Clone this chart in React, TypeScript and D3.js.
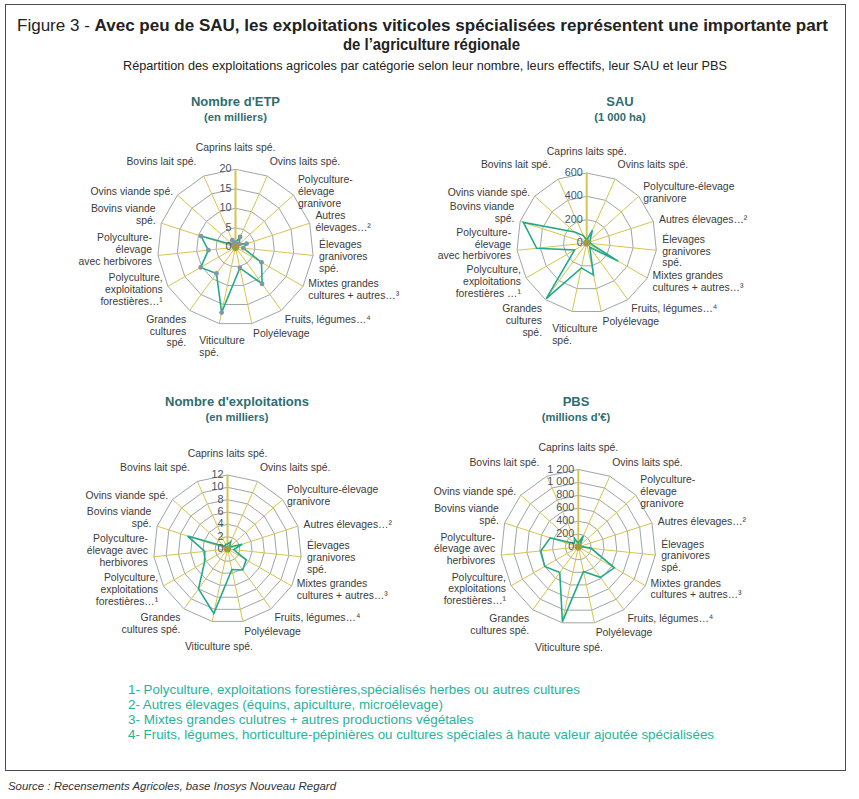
import React from 'react';
import * as d3 from 'd3';

// ---------- DATA ----------
const categories = [
  'Caprins laits spé.', 'Ovins laits spé.', 'Polyculture-élevage granivore', 'Autres élevages…²',
  'Élevages granivores spé.', 'Mixtes grandes cultures + autres…³', 'Fruits, légumes…⁴', 'Polyélevage',
  'Viticulture spé.', 'Grandes cultures spé.', 'Polyculture, exploitations forestières…¹',
  'Polyculture-élevage avec herbivores', 'Bovins viande spé.', 'Ovins viande spé.', 'Bovins lait spé.',
];

const etpValues = [1.2, 2.9, 1.2, 3.0, 2.0, 7.7, 11.6, 5.4, 17.1, 8.3, 10.3, 7.0, 9.3, 1.0, 2.0];
const sauValues = [25, 120, 40, 30, 30, 310, 45, 281, 218, 590, 120, 431, 571, 140, 70];
const exploitValues = [0.8, 1.3, 0.5, 2.5, 1.0, 3.5, 4.2, 3.4, 10.7, 8.0, 4.3, 3.7, 6.8, 0.6, 0.8];
const pbsValues = [60, 190, 40, 40, 200, 644, 580, 387, 1182, 488, 600, 584, 456, 80, 148];

const etpTicks = [0, 5, 10, 15, 20];
const sauTicks = [0, 200, 400, 600];
const exploitTicks = [0, 2, 4, 6, 8, 10, 12];
const pbsTicks = [0, 200, 400, 600, 800, 1000, 1200];

const etpLabels = [
  ['Caprins laits spé.'], ['Ovins laits spé.'], ['Polyculture-', 'élevage', 'granivore'], ['Autres', 'élevages…²'],
  ['Élevages', 'granivores', 'spé.'], ['Mixtes grandes', 'cultures + autres…³'], ['Fruits, légumes…⁴'], ['Polyélevage'],
  ['Viticulture', 'spé.'], ['Grandes', 'cultures', 'spé.'], ['Polyculture,', 'exploitations', 'forestières…¹'],
  ['Polyculture-', 'élevage', 'avec herbivores'], ['Bovins viande', 'spé.'], ['Ovins viande spé.'], ['Bovins lait spé.'],
];
const sauLabels = [
  ['Caprins laits spé.'], ['Ovins laits spé.'], ['Polyculture-élevage', 'granivore'], ['Autres élevages…²'],
  ['Élevages', 'granivores', 'spé.'], ['Mixtes grandes', 'cultures + autres…³'], ['Fruits, légumes…⁴'], ['Polyélevage'],
  ['Viticulture', 'spé.'], ['Grandes', 'cultures', 'spé.'], ['Polyculture,', 'exploitations', 'forestières …¹'],
  ['Polyculture-', 'élevage', 'avec herbivores'], ['Bovins viande', 'spé.'], ['Ovins viande spé.'], ['Bovins lait spé.'],
];
const exploitLabels = [
  ['Caprins laits spé.'], ['Ovins laits spé.'], ['Polyculture-élevage', 'granivore'], ['Autres élevages…²'],
  ['Élevages', 'granivores', 'spé.'], ['Mixtes grandes', 'cultures + autres…³'], ['Fruits, légumes…⁴'], ['Polyélevage'],
  ['Viticulture spé.'], ['Grandes', 'cultures spé.'], ['Polyculture,', 'exploitations', 'forestières…¹'],
  ['Polyculture-', 'élevage avec', 'herbivores'], ['Bovins viande', 'spé.'], ['Ovins viande spé.'], ['Bovins lait spé.'],
];
const pbsLabels = [
  ['Caprins laits spé.'], ['Ovins laits spé.'], ['Polyculture-', 'élevage', 'granivore'], ['Autres élevages…²'],
  ['Élevages', 'granivores', 'spé.'], ['Mixtes grandes', 'cultures + autres…³'], ['Fruits, légumes…⁴'], ['Polyélevage'],
  ['Viticulture spé.'], ['Grandes', 'cultures spé.'], ['Polyculture,', 'exploitations', 'forestières…¹'],
  ['Polyculture-', 'élevage avec', 'herbivores'], ['Bovins viande', 'spé.'], ['Ovins viande spé.'], ['Bovins lait spé.'],
];

const titleBold = 'Avec peu de SAU, les exploitations viticoles spécialisées représentent une importante part';
const titlePrefix = 'Figure 3 - ';
const titleLine2 = 'de l’agriculture régionale';
const subtitle = 'Répartition des exploitations agricoles par catégorie selon leur nombre, leurs effectifs, leur SAU et leur PBS';
const footnotes = [
  '1- Polyculture, exploitations forestières,spécialisés herbes ou autres cultures',
  '2- Autres élevages (équins, apiculture, microélevage)',
  '3- Mixtes grandes culutres  + autres productions végétales',
  '4- Fruits, légumes, horticulture-pépinières ou cultures spéciales à haute valeur ajoutée spécialisées',
];
const source = 'Source : Recensements Agricoles, base Inosys Nouveau Regard';

// ---------- STYLE ----------
const FONT = "'Liberation Sans', Arial, sans-serif";
const TFONT = "'Liberation Sans', Arial, sans-serif";
const LABEL_SIZE = 10.4;
const LINE_H = 11.8;
const SPOKE = '#d7c44f';
const RING = '#9ea6a6';
const SERIES = '#22a98a';
const MARKER = '#8395a8';
const CENTER_DOT = '#a59b3d';
const TICK_COLOR = '#44546a';
const LABEL_COLOR = '#3b3b3b';
const TITLE_COLOR = '#2f6d70';
const NOTE_COLOR = '#27b39b';

let ctx: CanvasRenderingContext2D | null = null;
function measure(text: string, size: number, weight = 'normal', style = 'normal') {
  if (!ctx) ctx = document.createElement('canvas').getContext('2d');
  if (!ctx) return text.length * size * 0.5;
  ctx.font = `${style} ${weight} ${size}px ${FONT}`;
  return ctx.measureText(text).width;
}

function fmt(n: number) {
  if (n >= 1000) return `${Math.floor(n / 1000)} ${String(n % 1000).padStart(3, '0')}`;
  return String(n);
}

type RadarProps = {
  cx: number; cy: number; R: number;
  ticks: number[]; values: number[]; labels: string[][];
  markers?: boolean; title: string; sub: string; titleX: number; titleY: number;
};

function Radar({ cx, cy, R, ticks, values, labels, markers, title, sub, titleX, titleY }: RadarProps) {
  const n = values.length;
  const max = ticks[ticks.length - 1];
  const r = d3.scaleLinear().domain([0, max]).range([0, R]);
  const ang = (i: number) => (i * 2 * Math.PI) / n;
  const radial = d3.lineRadial<number>().angle((_, i) => ang(i)).radius((d) => r(d)).curve(d3.curveLinearClosed);
  const idx = d3.range(n);

  const labelEls = labels.map((lines, i) => {
    const a = ang(i);
    const s = Math.sin(a);
    const c = Math.cos(a);
    const gap = 6;
    const px = cx + (R + gap) * s;
    const py = cy - (R + gap) * c;
    const h = lines.length * LINE_H;
    const widths = lines.map((l) => measure(l, LABEL_SIZE));
    const w = Math.max(...widths);
    let anchor: 'start' | 'end' | 'middle' = 'middle';
    let x = px;
    let ycen = py;
    if (s > 0.1) { anchor = 'start'; x = px; }
    else if (s < -0.3) { anchor = 'end'; x = px; }
    else { anchor = 'middle'; }
    if (c > 0.99) ycen = py - h / 2 - 10;
    else if (c > 0.85) { ycen = py - h / 2 - 3; if (s < 0) x = px - 5; }
    else if (c < -0.7) {
      if (anchor === 'middle') {
        const top = py + (lines.length === 1 ? 13 : 5);
        ycen = top + h / 2;
        x = px + (lines.length === 1 ? 8 : 4);
      } else ycen = py + h / 2 - 2;
    } else if (Math.abs(c) < 0.4 && s < 0) ycen = py - 7;
    return (
      <g key={i}>
        {lines.map((l, j) => {
          let lx = x;
          let la: 'start' | 'end' | 'middle' = anchor;
          if (anchor === 'middle' && lines.length > 1) { lx = x - w / 2; la = 'start'; }
          return (
            <text key={j} x={lx} y={ycen - h / 2 + LINE_H * (j + 0.5) + 3.7} textAnchor={la}
              fontSize={LABEL_SIZE} fill={LABEL_COLOR} fontFamily={FONT}>{l}</text>
          );
        })}
      </g>
    );
  });

  return (
    <g>
      <text x={titleX} y={titleY} textAnchor="middle" fontFamily={TFONT} fontWeight="bold" fontSize={13} fill={TITLE_COLOR}>{title}</text>
      <text x={titleX} y={titleY + 14.5} textAnchor="middle" fontFamily={TFONT} fontWeight="bold" fontSize={11.2} fill={TITLE_COLOR}>{sub}</text>
      {ticks.slice(1).map((t) => (
        <path key={t} d={radial(idx.map(() => t)) || ''} transform={`translate(${cx},${cy})`} fill="none" stroke={RING} strokeWidth={1} />
      ))}
      {idx.map((i) => (
        <line key={i} x1={cx} y1={cy} x2={cx + R * Math.sin(ang(i))} y2={cy - R * Math.cos(ang(i))}
          stroke={SPOKE} strokeWidth={i === 0 ? 2 : 1} />
      ))}
      <path d={radial(values) || ''} transform={`translate(${cx},${cy})`} fill="none" stroke={SERIES} strokeWidth={1.6} strokeLinejoin="miter" />
      {markers && values.map((v, i) => (
        <circle key={i} cx={cx + r(v) * Math.sin(ang(i))} cy={cy - r(v) * Math.cos(ang(i))} r={2.4} fill={MARKER} />
      ))}
      <circle cx={cx} cy={cy} r={3.6} fill={CENTER_DOT} />
      {ticks.map((t) => (
        <text key={t} x={cx - 4} y={cy - r(t) + 3} textAnchor="end" fontFamily={FONT} fontSize={10.8} fill={TICK_COLOR}>{fmt(t)}</text>
      ))}
      {labelEls}
    </g>
  );
}

export default function App() {
  const noteSize = 12.4;
  const noteFactor = 586 / measure(footnotes[3], noteSize);
  return (
    <svg width={859} height={799} style={{ position: 'absolute', left: 0, top: 0, background: '#fff' }}
      xmlns="http://www.w3.org/2000/svg">
      <rect x={0} y={0} width={859} height={799} fill="#fff" />
      <rect x={5.5} y={4.5} width={840} height={766} fill="none" stroke="#4a4a4a" strokeWidth={1} />
      <text x={17} y={31} fontFamily={TFONT} fontSize={16} fill="#222"
        textLength={811} lengthAdjust="spacingAndGlyphs">
        <tspan>{titlePrefix}</tspan><tspan fontWeight="bold">{titleBold}</tspan>
      </text>
      <text x={343} y={49.5} fontFamily={TFONT} fontSize={16} fontWeight="bold" fill="#222"
        textLength={177} lengthAdjust="spacingAndGlyphs">{titleLine2}</text>
      <text x={123} y={70} fontFamily={TFONT} fontSize={12} fill="#222"
        textLength={604} lengthAdjust="spacingAndGlyphs">{subtitle}</text>

      <Radar cx={235.5} cy={247.3} R={78} ticks={etpTicks} values={etpValues} labels={etpLabels} markers
        title="Nombre d'ETP" sub="(en milliers)" titleX={235.5} titleY={106} />
      <Radar cx={586.7} cy={243} R={70} ticks={sauTicks} values={sauValues} labels={sauLabels}
        title="SAU" sub="(1 000 ha)" titleX={620} titleY={106} />
      <Radar cx={227.5} cy={549} R={74} ticks={exploitTicks} values={exploitValues} labels={exploitLabels}
        title="Nombre d'exploitations" sub="(en milliers)" titleX={237} titleY={406} />
      <Radar cx={578.3} cy={547} R={77.5} ticks={pbsTicks} values={pbsValues} labels={pbsLabels}
        title="PBS" sub="(millions d'€)" titleX={576} titleY={406} />

      {footnotes.map((f, i) => (
        <text key={i} x={128} y={693.5 + i * 15} fontFamily={FONT} fontSize={noteSize} fill={NOTE_COLOR}
          textLength={measure(f, noteSize) * noteFactor} lengthAdjust="spacingAndGlyphs">{f}</text>
      ))}
      <text x={8} y={790} fontFamily={FONT} fontStyle="italic" fontSize={11.5} fill="#333"
        textLength={328} lengthAdjust="spacingAndGlyphs">{source}</text>
      <desc>{categories.join('; ')}</desc>
    </svg>
  );
}
